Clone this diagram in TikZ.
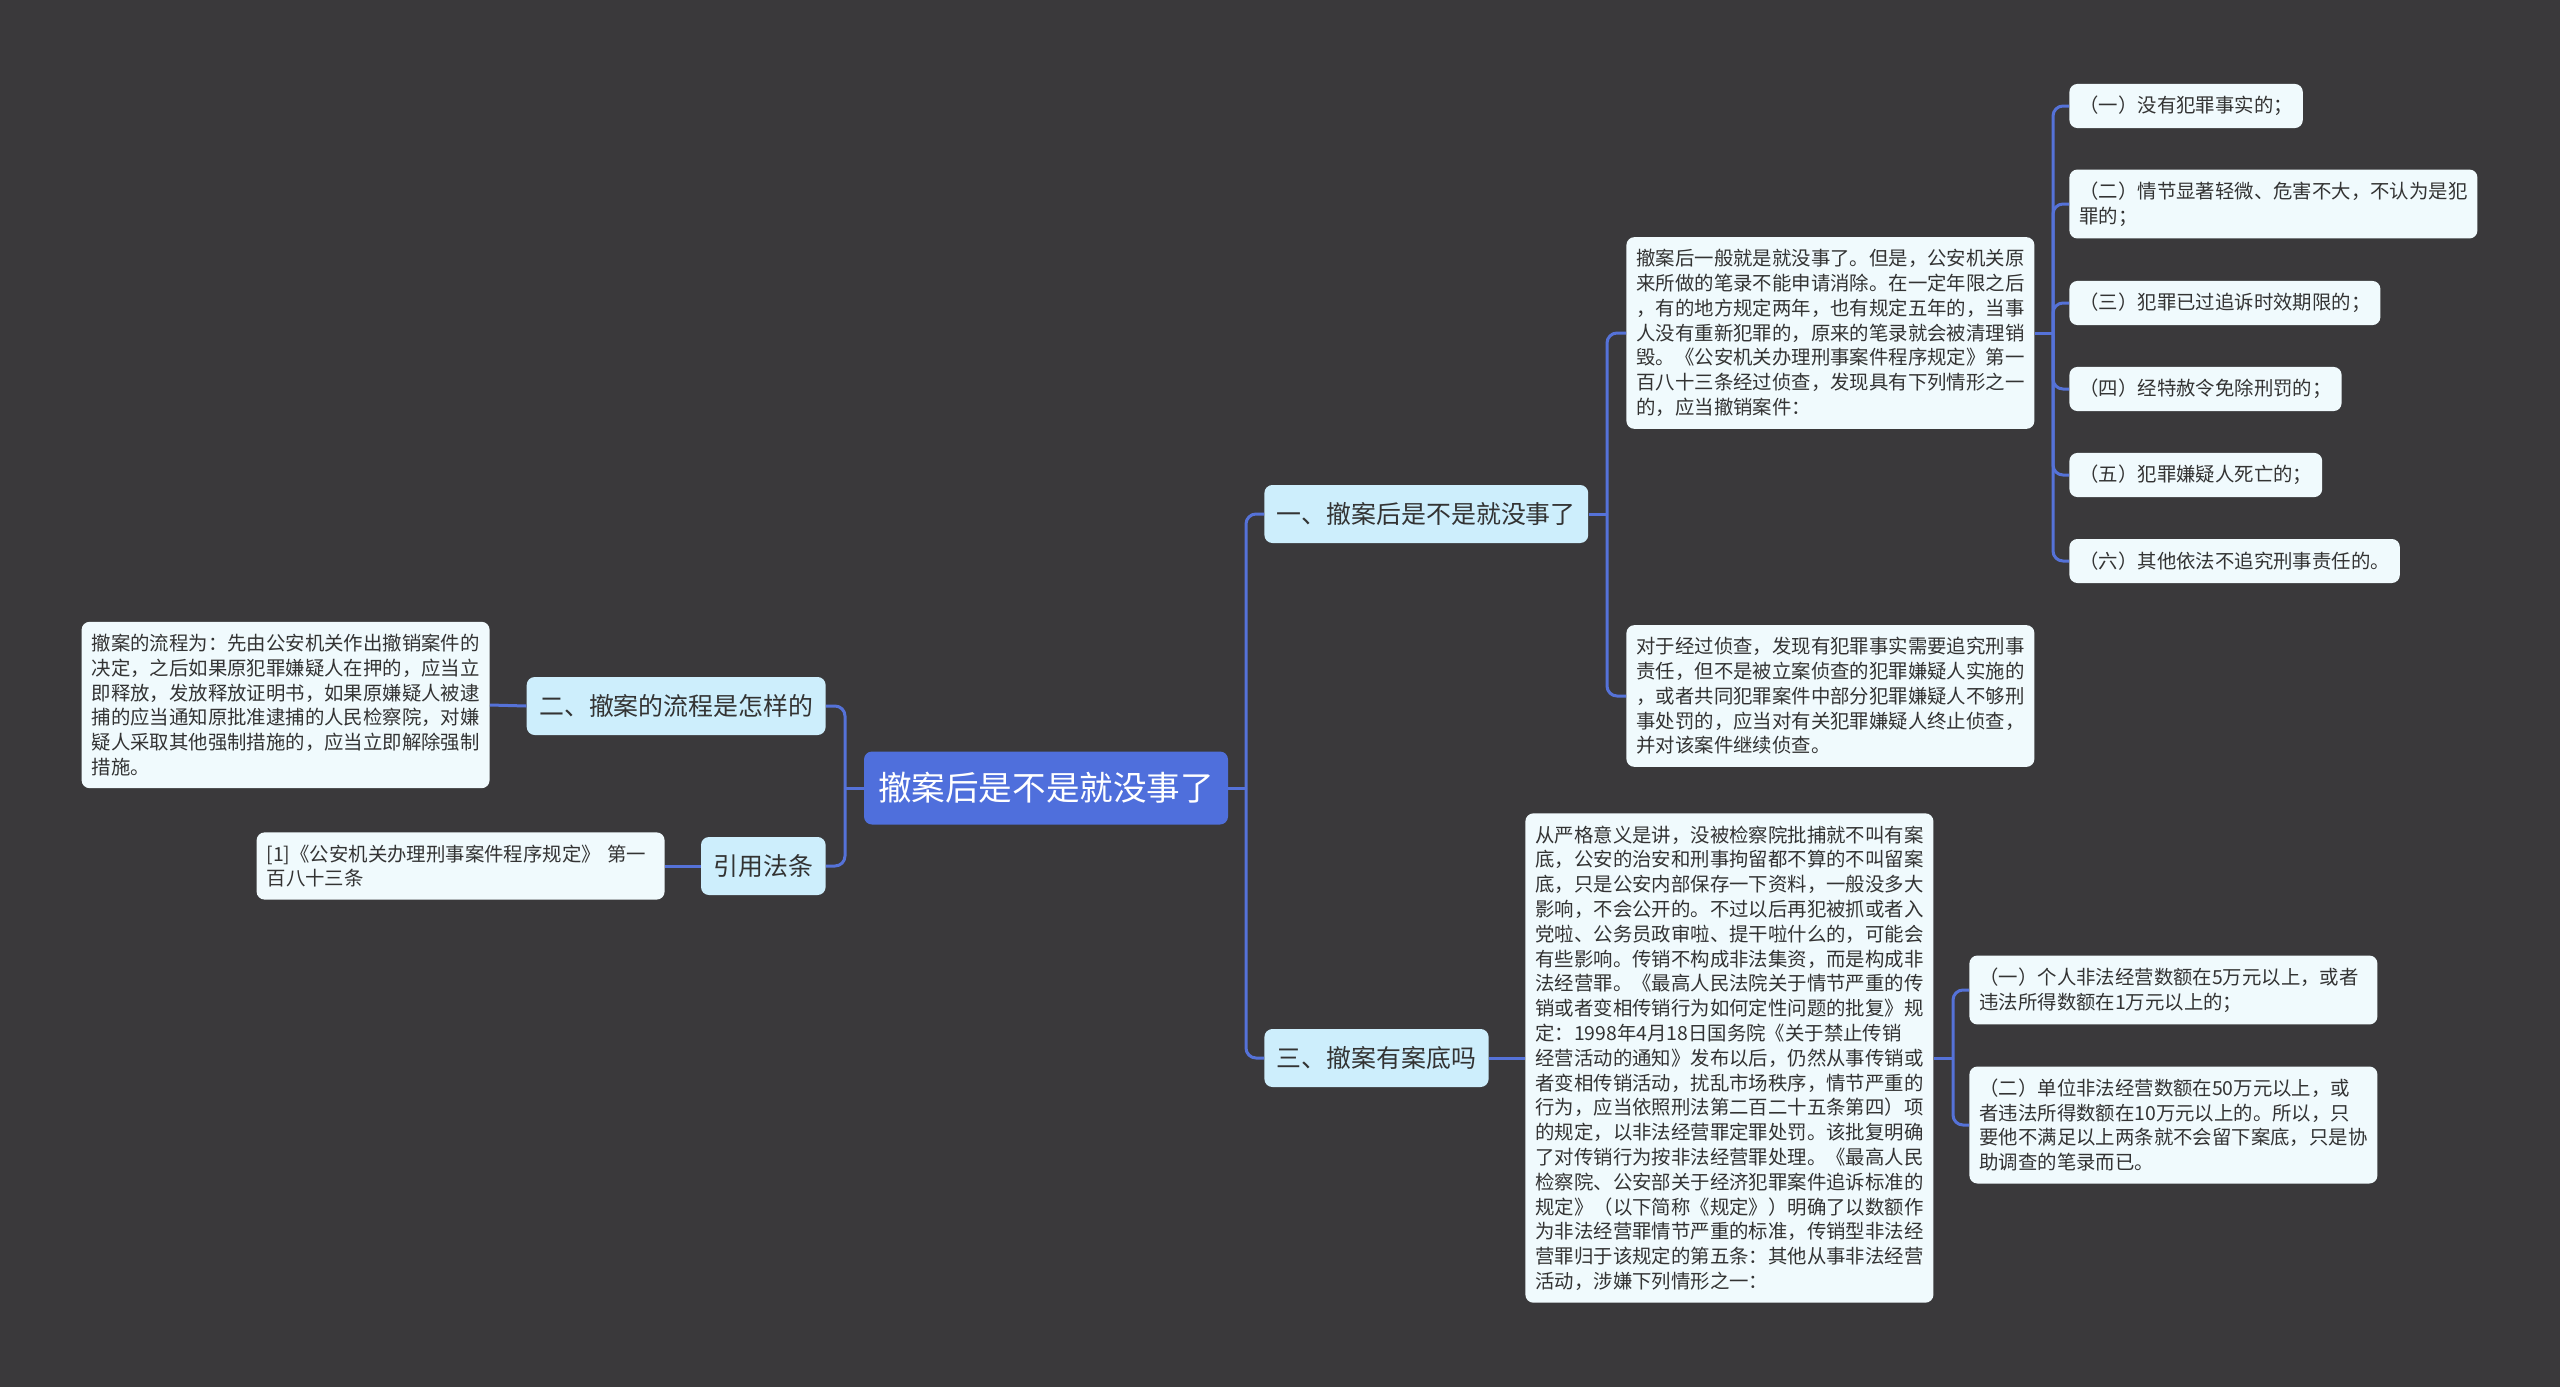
\documentclass[tikz,border=0pt]{standalone}
\usepackage{fontspec}
\setmainfont{Noto Sans CJK SC}
\usetikzlibrary{positioning, calc}

\definecolor{bgc}{HTML}{3A393B}
\definecolor{linkc}{HTML}{5572D8}
\definecolor{rootc}{HTML}{4F6FDC}
\definecolor{topicc}{HTML}{CDEEFC}
\definecolor{leafc}{HTML}{F0FAFD}
\definecolor{textc}{HTML}{333333}

\begin{document}
\begin{tikzpicture}[x=0.5pt, y=-0.5pt,
    link/.style={draw=linkc, line width=1.5pt, rounded corners=5pt},
    rootbox/.style={fill=rootc, rounded corners=4pt, text=white, font=\fontsize{16.8pt}{20pt}\selectfont, minimum width=182pt, minimum height=36.5pt, inner sep=0pt},
    topic/.style={fill=topicc, rounded corners=4pt, text=textc, font=\fontsize{12.45pt}{15pt}\selectfont, minimum height=29pt, inner xsep=6.25pt, inner ysep=0pt},
    leaf/.style={fill=leafc, rounded corners=4pt, text=textc, font=\fontsize{9.7pt}{12.4pt}\selectfont, text width=194pt, align=left, inner xsep=5pt, inner ysep=6.1pt},
    item/.style={fill=leafc, rounded corners=4pt, text=textc, font=\fontsize{9.7pt}{12.4pt}\selectfont, minimum height=22pt, inner xsep=5pt, inner ysep=6.1pt}]

    % background
    \fill[bgc] (0,0) rectangle (2560,1387);

    % center
    \node[rootbox] (root) at (1046,788) {撤案后是不是就没事了};

    % main topics
    \node[topic, anchor=west] (one) at (1264,514) {一、撤案后是不是就没事了};
    \node[topic, anchor=west] (three) at (1264,1058) {三、撤案有案底吗};
    \node[topic, anchor=east] (two) at (826,706) {二、撤案的流程是怎样的};
    \node[topic, anchor=east] (law) at (826,866) {引用法条};

    % topic one
    \node[leaf, anchor=west] (expl) at (1626,333) {撤案后一般就是就没事了。但是，公安机关原\\来所做的笔录不能申请消除。在一定年限之后\\，有的地方规定两年，也有规定五年的，当事\\人没有重新犯罪的，原来的笔录就会被清理销\\毁。《公安机关办理刑事案件程序规定》第一\\百八十三条经过侦查，发现具有下列情形之一\\的，应当撤销案件：};
    \node[leaf, anchor=west] (stop) at (1626,696) {对于经过侦查，发现有犯罪事实需要追究刑事\\责任，但不是被立案侦查的犯罪嫌疑人实施的\\，或者共同犯罪案件中部分犯罪嫌疑人不够刑\\事处罚的，应当对有关犯罪嫌疑人终止侦查，\\并对该案件继续侦查。};

    \node[item, anchor=west] (caseA) at (2069,106) {（一）没有犯罪事实的；};
    \node[leaf, anchor=west] (caseB) at (2069,204) {（二）情节显著轻微、危害不大，不认为是犯\\罪的；};
    \node[item, anchor=west] (caseC) at (2069,303) {（三）犯罪已过追诉时效期限的；};
    \node[item, anchor=west] (caseD) at (2069,389) {（四）经特赦令免除刑罚的；};
    \node[item, anchor=west] (caseE) at (2069,475) {（五）犯罪嫌疑人死亡的；};
    \node[item, anchor=west] (caseF) at (2069,561) {（六）其他依法不追究刑事责任的。};

    % topic three
    \node[leaf, anchor=west] (record) at (1525,1058) {从严格意义是讲，没被检察院批捕就不叫有案\\底，公安的治安和刑事拘留都不算的不叫留案\\底，只是公安内部保存一下资料，一般没多大\\影响，不会公开的。不过以后再犯被抓或者入\\党啦、公务员政审啦、提干啦什么的，可能会\\有些影响。传销不构成非法集资，而是构成非\\法经营罪。《最高人民法院关于情节严重的传\\销或者变相传销行为如何定性问题的批复》规\\定：1998年4月18日国务院《关于禁止传销\\经营活动的通知》发布以后，仍然从事传销或\\者变相传销活动，扰乱市场秩序，情节严重的\\行为，应当依照刑法第二百二十五条第四）项\\的规定，以非法经营罪定罪处罚。该批复明确\\了对传销行为按非法经营罪处理。《最高人民\\检察院、公安部关于经济犯罪案件追诉标准的\\规定》（以下简称《规定》）明确了以数额作\\为非法经营罪情节严重的标准，传销型非法经\\营罪归于该规定的第五条：其他从事非法经营\\活动，涉嫌下列情形之一：};
    \node[leaf, anchor=west] (sumA) at (1969,990) {（一）个人非法经营数额在5万元以上，或者\\违法所得数额在1万元以上的；};
    \node[leaf, anchor=west] (sumB) at (1969,1125) {（二）单位非法经营数额在50万元以上，或\\者违法所得数额在10万元以上的。所以，只\\要他不满足以上两条就不会留下案底，只是协\\助调查的笔录而已。};

    % left leaves
    \node[leaf, anchor=east] (flow) at (490,705) {撤案的流程为：先由公安机关作出撤销案件的\\决定，之后如果原犯罪嫌疑人在押的，应当立\\即释放，发放释放证明书，如果原嫌疑人被逮\\捕的应当通知原批准逮捕的人民检察院，对嫌\\疑人采取其他强制措施的，应当立即解除强制\\措施。};
    \node[leaf, anchor=east] (cite) at (665,866) {[1]《公安机关办理刑事案件程序规定》 第一\\百八十三条};

    % connectors
    \coordinate (rj) at (1246,788);
    \coordinate (lj) at (845,788);
    \coordinate (oj) at (1607,514);
    \coordinate (ej) at (2053,333);
    \coordinate (cj) at (1953,1058);

    \draw[link] (root.east) -- (rj);
    \draw[link] (rj) |- (one.west);
    \draw[link] (rj) |- (three.west);
    \draw[link] (root.west) -- (lj);
    \draw[link] (lj) |- (two.east);
    \draw[link] (lj) |- (law.east);

    \draw[link] (one.east) -- (oj);
    \draw[link] (oj) |- (expl.west);
    \draw[link] (oj) |- (stop.west);
    \draw[link] (expl.east) -- (ej);
    \foreach \c in {caseA,caseB,caseC,caseD,caseE,caseF}
        \draw[link] (ej) |- (\c.west);

    \draw[link] (three.east) -- (record.west);
    \draw[link] (record.east) -- (cj);
    \draw[link] (cj) |- (sumA.west);
    \draw[link] (cj) |- (sumB.west);

    \draw[link] (two.west) -- (flow.east);
    \draw[link] (law.west) -- (cite.east);
\end{tikzpicture}
\end{document}
